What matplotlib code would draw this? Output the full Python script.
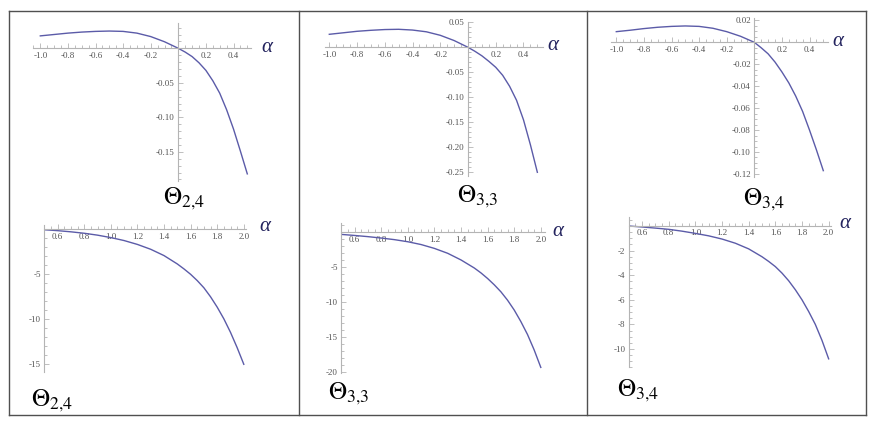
import matplotlib
matplotlib.use("Agg")
import matplotlib.pyplot as plt
from matplotlib.ticker import MultipleLocator
from matplotlib.lines import Line2D

# ---------------- data ----------------
alpha_top = [-1.0, -0.9, -0.8, -0.7, -0.6, -0.5, -0.4, -0.3, -0.2, -0.1, 0.0,
             0.05, 0.1, 0.15, 0.2, 0.25, 0.3, 0.35, 0.4, 0.45, 0.5]
theta24_top = [0.018, 0.020, 0.022, 0.0235, 0.0245, 0.025, 0.0245, 0.022, 0.017, 0.0095, 0.0,
               -0.0055, -0.012, -0.021, -0.032, -0.047, -0.065, -0.089, -0.117, -0.149, -0.182]
theta33_top = [0.026, 0.029, 0.032, 0.034, 0.0355, 0.036, 0.0345, 0.031, 0.024, 0.0135, 0.0,
               -0.008, -0.017, -0.028, -0.040, -0.056, -0.078, -0.106, -0.145, -0.195, -0.250]
theta34_top = [0.0097, 0.011, 0.0125, 0.0137, 0.0145, 0.0149, 0.0145, 0.0128, 0.0097, 0.0055, 0.0,
               -0.005, -0.0105, -0.018, -0.027, -0.037, -0.049, -0.063, -0.080, -0.098, -0.117]

alpha_bot = [0.5, 0.6, 0.7, 0.8, 0.9, 1.0, 1.1, 1.2, 1.3, 1.4, 1.5,
             1.55, 1.6, 1.65, 1.7, 1.75, 1.8, 1.85, 1.9, 1.95, 2.0]
theta24_bot = [-0.05, -0.15, -0.28, -0.44, -0.65, -0.92, -1.25, -1.68, -2.22, -2.92, -3.85,
               -4.4, -5.0, -5.7, -6.5, -7.5, -8.65, -9.95, -11.45, -13.15, -15.0]
theta33_bot = [-0.3, -0.45, -0.62, -0.82, -1.05, -1.35, -1.75, -2.3, -3.0, -3.95, -5.1,
               -5.8, -6.6, -7.5, -8.5, -9.7, -11.1, -12.75, -14.6, -16.8, -19.3]
theta34_bot = [0.0, -0.08, -0.17, -0.27, -0.42, -0.6, -0.8, -1.06, -1.4, -1.86, -2.5,
               -2.88, -3.3, -3.83, -4.45, -5.18, -6.0, -6.95, -8.0, -9.3, -10.8]

xticks_top = [-1.0, -0.8, -0.6, -0.4, -0.2, 0.2, 0.4]
xticklabels_top = ["-1.0", "-0.8", "-0.6", "-0.4", "-0.2", "0.2", "0.4"]
xticks_bot = [0.6, 0.8, 1.0, 1.2, 1.4, 1.6, 1.8, 2.0]
xticklabels_bot = ["0.6", "0.8", "1.0", "1.2", "1.4", "1.6", "1.8", "2.0"]

yticks_24_top = [-0.05, -0.10, -0.15]
ylabels_24_top = ["-0.05", "-0.10", "-0.15"]
yticks_33_top = [0.05, -0.05, -0.10, -0.15, -0.20, -0.25]
ylabels_33_top = ["0.05", "-0.05", "-0.10", "-0.15", "-0.20", "-0.25"]
yticks_34_top = [0.02, -0.02, -0.04, -0.06, -0.08, -0.10, -0.12]
ylabels_34_top = ["0.02", "-0.02", "-0.04", "-0.06", "-0.08", "-0.10", "-0.12"]
yticks_24_bot = [-5, -10, -15]
ylabels_24_bot = ["-5", "-10", "-15"]
yticks_33_bot = [-5, -10, -15, -20]
ylabels_33_bot = ["-5", "-10", "-15", "-20"]
yticks_34_bot = [-2, -4, -6, -8, -10]
ylabels_34_bot = ["-2", "-4", "-6", "-8", "-10"]

names = [r"$\Theta_{2{,}4}$", r"$\Theta_{3{,}3}$", r"$\Theta_{3{,}4}$"]

# ---------------- style ----------------
plt.rcParams["mathtext.fontset"] = "stix"
plt.rcParams["font.family"] = ["Liberation Serif", "DejaVu Serif"]

W, H = 872, 429
fig = plt.figure(figsize=(W / 100, H / 100), dpi=100)
fig.patch.set_facecolor("white")

CURVE = "#5b5ba8"
AXC = "#b4b4b4"
LABC = "#555555"
ALPHC = "#23235e"


def place(ox, oy, sx, sy, xlim, ylim, xorig):
    left = ox + (xlim[0] - xorig) * sx
    right = ox + (xlim[1] - xorig) * sx
    top = oy - ylim[1] * sy
    bot = oy - ylim[0] * sy
    ax = fig.add_axes([left / W, 1 - bot / H, (right - left) / W, (bot - top) / H])
    ax.set_xlim(*xlim)
    ax.set_ylim(*ylim)
    ax.patch.set_alpha(0)
    for s in ("top", "right"):
        ax.spines[s].set_visible(False)
    ax.spines["left"].set_position(("data", xorig))
    ax.spines["bottom"].set_position(("data", 0))
    for s in ("left", "bottom"):
        ax.spines[s].set_color(AXC)
        ax.spines[s].set_linewidth(0.8)
    ax.tick_params(which="both", direction="in", colors=AXC, labelcolor=LABC,
                   labelsize=6.5, width=0.6, pad=2.5)
    ax.tick_params(which="major", length=3.5)
    ax.tick_params(which="minor", length=2)
    return ax


def fig_text(x, y, s, **kw):
    fig.text(x / W, 1 - y / H, s, **kw)


panels = [
    (178.3, 48.3, 138, 690, (-1.05, 0.53), (-0.193, 0.037), 0.0, alpha_top, theta24_top,
     xticks_top, xticklabels_top, yticks_24_top, ylabels_24_top, 0.01, (267, 47), (184, 199), names[0]),
    (468.0, 47.3, 138.7, 500, (-1.03, 0.54), (-0.257, 0.051), 0.0, alpha_top, theta33_top,
     xticks_top, xticklabels_top, yticks_33_top, ylabels_33_top, 0.01, (553, 45), (478, 197), names[1]),
    (754.3, 42.3, 138, 1097, (-1.04, 0.536), (-0.1225, 0.022), 0.0, alpha_top, theta34_top,
     xticks_top, xticklabels_top, yticks_34_top, ylabels_34_top, 0.005, (838, 42), (764, 200), names[2]),
    (44.3, 229.3, 133, 9, (0.5, 2.02), (-15.8, 0.48), 0.5, alpha_bot, theta24_bot,
     xticks_bot, xticklabels_bot, yticks_24_bot, ylabels_24_bot, 1, (265, 227), (52, 401), names[0]),
    (341.3, 232.3, 133, 7, (0.5, 2.03), (-20.1, 1.3), 0.5, alpha_bot, theta33_bot,
     xticks_bot, xticklabels_bot, yticks_33_bot, ylabels_33_bot, 1, (558, 232), (349, 394), names[1]),
    (628.7, 226, 133.3, 12.3, (0.5, 2.02), (-11.5, 0.75), 0.5, alpha_bot, theta34_bot,
     xticks_bot, xticklabels_bot, yticks_34_bot, ylabels_34_bot, 0.5, (845, 224), (638, 391), names[2]),
]

for (ox, oy, sx, sy, xlim, ylim, xorig, xs, ys, xt, xtl, yt, ytl, ymin,
     apos, tpos, name) in panels:
    ax = place(ox, oy, sx, sy, xlim, ylim, xorig)
    ax.plot(xs, ys, color=CURVE, lw=1.0, solid_joinstyle="round")
    ax.set_xticks(xt, xtl)
    ax.set_yticks(yt, ytl)
    ax.xaxis.set_minor_locator(MultipleLocator(0.05))
    ax.yaxis.set_minor_locator(MultipleLocator(ymin))
    fig_text(apos[0], apos[1], "α", fontsize=15, style="italic", color=ALPHC,
             ha="center", va="center")
    fig_text(tpos[0], tpos[1], name, fontsize=18, color="black",
             ha="center", va="center")

# ---------------- table frame ----------------
FR = "#505050"
for (x0, y0, x1, y1) in [(9, 10.5, 866, 10.5), (9, 415, 866, 415), (9, 10.5, 9, 415),
                         (866, 10.5, 866, 415), (299, 10.5, 299, 415), (586.5, 10.5, 586.5, 415)]:
    fig.add_artist(Line2D([x0 / W, x1 / W], [1 - y0 / H, 1 - y1 / H], color=FR, lw=1.0,
                          transform=fig.transFigure))

fig.savefig("out.png", dpi=100, facecolor="white")
